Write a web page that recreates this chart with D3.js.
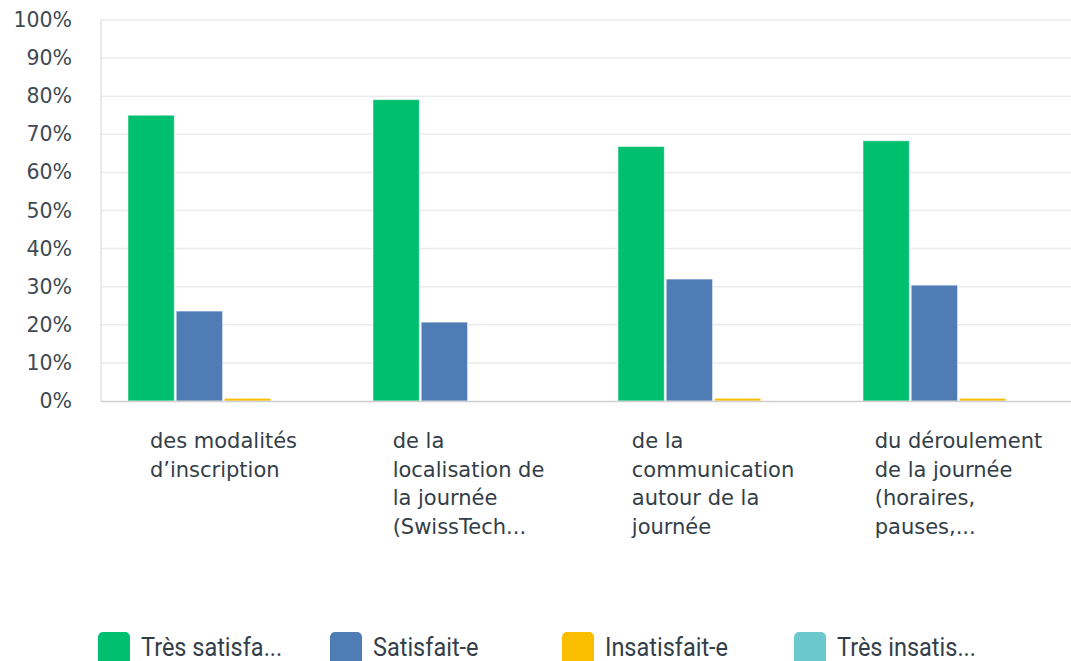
<!DOCTYPE html>
<html>
<head>
<meta charset="utf-8">
<script src="https://cdn.jsdelivr.net/npm/d3@7"></script>
<style>
  body { margin: 0; background: #fff; overflow: hidden; }
  svg { display: block; }
</style>
</head>
<body>
<script>
// grouped bars, one group per question, one bar per answer
const categories = [
    ['des modalités', 'd\u2019inscription'],
    ['de la', 'localisation de', 'la journée', '(SwissTech...'],
    ['de la', 'communication', 'autour de la', 'journée'],
    ['du déroulement', 'de la journée', '(horaires,', 'pauses,...']
];
const series = ['Très satisfa...', 'Satisfait-e', 'Insatisfait-e', 'Très insatis...'];
const colors = ['#00bf6f', '#507cb6', '#f9be00', '#6bc8cd'];
const values = [
    [75.0, 79.1, 66.8, 68.3],   // très satisfait
    [23.6, 20.7, 32.0, 30.4],   // satisfait
    [0.7, 0, 0.7, 0.7],         // insatisfait
    [0, 0, 0, 0]                // très insatisfait
];
const yTicks = [0, 10, 20, 30, 40, 50, 60, 70, 80, 90, 100];

let width = 1071, height = 661;
let margin = {left: 101, top: 20, bottom: 260};
let textColor = '#333e48';

let svg = d3.select('body').append('svg')
    .attr('width', width)
    .attr('height', height);

let x = d3.scaleBand()
    .domain(d3.range(categories.length))
    .range([margin.left, margin.left + 245 * categories.length])
    .paddingInner(0)
    .paddingOuter(0);

let xs = d3.scaleBand()
    .domain(d3.range(series.length))
    .range([27, 245 - 27])
    .paddingInner(0.04);

let y = d3.scaleLinear()
    .domain([0, 100])
    .range([height - margin.bottom, margin.top]);

// gridlines
svg.append('g')
    .selectAll('line')
    .data(yTicks.slice(1))
    .join('line')
        .attr('x1', margin.left)
        .attr('x2', width)
        .attr('y1', d => y(d))
        .attr('y2', d => y(d))
        .style('stroke', '#ebebeb')
        .style('stroke-width', 1.5);

// left axis line
svg.append('line')
    .attr('x1', margin.left).attr('x2', margin.left)
    .attr('y1', y(100)).attr('y2', y(0))
    .style('stroke', '#e3e3e3')
    .style('stroke-width', 1.5);

// y axis labels
let yAxis = d3.axisLeft(y).tickValues(yTicks).tickFormat(d => d + '%').tickSize(0).tickPadding(29);
svg.append('g')
    .attr('transform', `translate(${margin.left},0)`)
    .call(yAxis)
    .call(g => g.select('.domain').remove())
    .selectAll('text')
        .style('font-family', '"DejaVu Sans", sans-serif')
        .style('font-size', '20.5px')
        .style('fill', '#3f4a54');

// bars
series.forEach(function(s, si) {
    svg.append('g')
        .selectAll('rect')
        .data(values[si])
        .join('rect')
            .attr('x', (d, i) => x(i) + xs(si))
            .attr('width', xs.bandwidth())
            .attr('y', d => y(d))
            .attr('height', d => y(0) - y(d))
            .style('fill', colors[si])
            .style('stroke', 'rgba(255,255,255,0.5)')
            .style('stroke-width', 1);
});

// bottom axis line
svg.append('line')
    .attr('x1', margin.left).attr('x2', width)
    .attr('y1', y(0) + 0.5).attr('y2', y(0) + 0.5)
    .style('stroke', '#cfcfcf')
    .style('stroke-width', 1.5);

// category labels: block centred on the band, lines left aligned
categories.forEach(function(lines, i) {
    let g = svg.append('g');
    let t = g.append('text')
        .style('font-family', '"DejaVu Sans", sans-serif')
        .style('font-size', '21px')
        .style('fill', textColor);
    t.selectAll('tspan')
        .data(lines)
        .join('tspan')
            .attr('x', 0)
            .attr('y', (d, k) => 448 + k * 28.5)
            .text(d => d);
    let w = t.node().getBBox().width;
    g.attr('transform', `translate(${x(i) + x.bandwidth() / 2 - w / 2},0)`);
});

// legend
let legend = svg.append('g')
    .selectAll('g')
    .data(series)
    .join('g')
        .attr('transform', (d, i) => `translate(${98 + i * 232},632)`);
legend.append('rect')
    .attr('width', 32)
    .attr('height', 40)
    .attr('rx', 5)
    .style('fill', (d, i) => colors[i]);
legend.append('text')
    .attr('transform', 'translate(43,24) scale(1,1.1)')
    .style('font-family', '"Liberation Sans Narrow", Roboto, sans-serif')
    .style('font-size', '23.5px')
    .style('fill', textColor)
    .text(d => d);
</script>
</body>
</html>
